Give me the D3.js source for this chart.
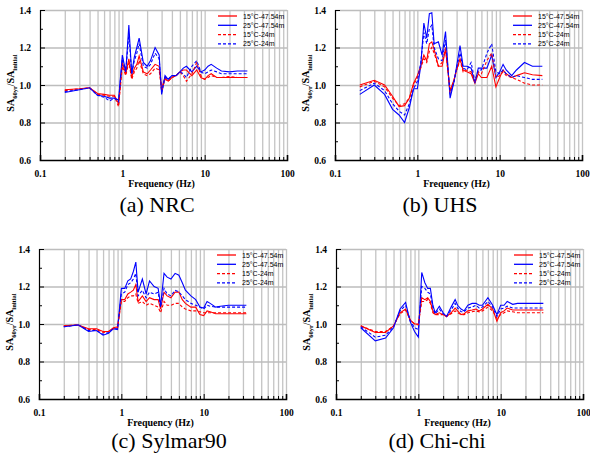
<!DOCTYPE html>
<html>
<head>
<meta charset="utf-8">
<script src="https://cdn.jsdelivr.net/npm/d3@7"></script>
<style>
  body { margin: 0; background: #fff; }
</style>
</head>
<body>
<div class="fig-wrapper"></div>
<script>
// frequencies (Hz) shared by every record
const freqs = [0.2, 0.3, 0.4, 0.5, 0.6, 0.7, 0.8, 0.9,
  1.0, 1.1, 1.2, 1.3, 1.4, 1.5, 1.6,
  1.8, 2.0, 2.2, 2.5, 2.8, 3.0, 3.3, 3.6,
  4.0, 4.5, 5.0, 5.5, 6.0, 7.0, 8.0, 9.0,
  10, 11, 12, 14, 16, 20, 25, 33];

const seriesNames = ["15°C-47.54m", "25°C-47.54m", "15°C-24m", "25°C-24m"];
const captions = ["(a) NRC", "(b) UHS", "(c) Sylmar90", "(d) Chi-chi"];
const xTicks = [0.1, 1, 10, 100];
const xTickLabels = ["0.1", "1", "10", "100"];
const yTicks = [0.6, 0.8, 1.0, 1.2, 1.4];
const yTickLabels = ["0.6", "0.8", "1.0", "1.2", "1.4"];

// (a) NRC
const nrc_15_47 = [0.975, 0.98, 0.985, 0.955, 0.95, 0.945, 0.945, 0.90,
  1.12, 1.06, 1.14, 1.04, 1.09, 1.11, 1.155,
  1.07, 1.06, 1.08, 1.11, 1.10, 0.98, 1.04, 1.02,
  1.04, 1.05, 1.07, 1.08, 1.08, 1.05, 1.08, 1.04,
  1.03, 1.05, 1.06, 1.04, 1.04, 1.04, 1.04, 1.04];
const nrc_25_47 = [0.96, 0.975, 0.985, 0.945, 0.94, 0.93, 0.93, 0.92,
  1.16, 1.07, 1.32, 1.06, 1.15, 1.20, 1.25,
  1.12, 1.10, 1.13, 1.20, 1.16, 0.95, 1.05, 1.03,
  1.05, 1.05, 1.07, 1.09, 1.10, 1.07, 1.10, 1.07,
  1.08, 1.10, 1.11, 1.09, 1.075, 1.07, 1.075, 1.075];
const nrc_15_24 = [0.97, 0.98, 0.985, 0.95, 0.945, 0.94, 0.94, 0.885,
  1.10, 1.05, 1.12, 1.03, 1.07, 1.09, 1.13,
  1.06, 1.05, 1.06, 1.09, 1.08, 0.97, 1.03, 1.02,
  1.04, 1.05, 1.07, 1.05, 1.02, 1.06, 1.12, 1.05,
  1.03, 1.04, 1.05, 1.04, 1.04, 1.045, 1.04, 1.04];
const nrc_25_24 = [0.965, 0.975, 0.985, 0.945, 0.935, 0.915, 0.93, 0.91,
  1.14, 1.07, 1.27, 1.06, 1.13, 1.17, 1.22,
  1.10, 1.09, 1.11, 1.17, 1.14, 0.96, 1.04, 1.03,
  1.05, 1.05, 1.07, 1.06, 1.04, 1.10, 1.13, 1.07,
  1.06, 1.07, 1.08, 1.07, 1.06, 1.06, 1.06, 1.06];

// (b) UHS
const uhs_15_47 = [1.0, 1.025, 1.0, 0.94, 0.885, 0.89, 0.93, 1.01,
  1.05, 1.10, 1.16, 1.13, 1.22, 1.23, 1.19,
  1.10, 1.10, 1.19, 0.97, 1.03, 1.08, 1.14, 1.08,
  1.07, 1.06, 1.01, 1.06, 1.04, 1.04, 1.10, 0.99,
  1.04, 1.08, 1.06, 1.04, 1.05, 1.065, 1.055, 1.05];
const uhs_25_47 = [0.95, 1.0, 0.95, 0.87, 0.84, 0.80, 0.88, 0.98,
  0.98, 1.10, 1.33, 1.25, 1.38, 1.385, 1.22,
  1.23, 1.16, 1.285, 0.93, 1.02, 1.10, 1.21, 1.10,
  1.10, 1.09, 1.01, 1.09, 1.09, 1.09, 1.16, 1.04,
  1.07, 1.11, 1.08, 1.05, 1.08, 1.12, 1.10, 1.10];
const uhs_15_24 = [0.99, 1.02, 0.99, 0.93, 0.89, 0.90, 0.93, 1.0,
  1.04, 1.09, 1.14, 1.12, 1.18, 1.20, 1.17,
  1.10, 1.12, 1.20, 0.96, 1.03, 1.08, 1.13, 1.07,
  1.08, 1.07, 1.02, 1.07, 1.06, 1.13, 1.17, 1.04,
  1.05, 1.07, 1.05, 1.04, 1.03, 1.01, 1.00, 1.00];
const uhs_25_24 = [0.97, 1.01, 0.97, 0.90, 0.86, 0.84, 0.90, 0.98,
  1.02, 1.12, 1.28, 1.22, 1.30, 1.32, 1.20,
  1.14, 1.13, 1.24, 0.95, 1.02, 1.09, 1.17, 1.09,
  1.08, 1.12, 1.02, 1.08, 1.08, 1.17, 1.22, 1.07,
  1.06, 1.08, 1.06, 1.04, 1.05, 1.04, 1.03, 1.03];

// (c) Sylmar90
const syl_15_47 = [0.99, 0.995, 0.975, 0.975, 0.96, 0.96, 0.98, 0.985,
  1.13, 1.13, 1.16, 1.17, 1.18, 1.21, 1.12,
  1.15, 1.12, 1.14, 1.13, 1.13, 1.08, 1.17, 1.15,
  1.14, 1.17, 1.17, 1.13, 1.11, 1.09, 1.09, 1.05,
  1.045, 1.07, 1.065, 1.055, 1.055, 1.055, 1.055, 1.055];
const syl_25_47 = [0.985, 0.995, 0.96, 0.965, 0.94, 0.95, 0.975, 0.97,
  1.19, 1.19, 1.23, 1.24, 1.28, 1.33, 1.17,
  1.24, 1.16, 1.23, 1.20, 1.19, 1.10, 1.27, 1.25,
  1.24, 1.27, 1.26, 1.22, 1.18, 1.15, 1.13, 1.09,
  1.085, 1.12, 1.11, 1.09, 1.095, 1.10, 1.10, 1.10];
const syl_15_24 = [0.99, 0.995, 0.97, 0.97, 0.955, 0.96, 0.975, 0.98,
  1.12, 1.12, 1.14, 1.15, 1.15, 1.16, 1.11,
  1.12, 1.10, 1.11, 1.10, 1.09, 1.06, 1.12, 1.10,
  1.10, 1.11, 1.11, 1.09, 1.08, 1.07, 1.07, 1.065,
  1.06, 1.06, 1.06, 1.06, 1.06, 1.06, 1.06, 1.06];
const syl_25_24 = [0.985, 0.995, 0.965, 0.965, 0.945, 0.955, 0.975, 0.975,
  1.16, 1.17, 1.21, 1.22, 1.24, 1.27, 1.15,
  1.18, 1.14, 1.17, 1.16, 1.17, 1.09, 1.19, 1.16,
  1.15, 1.18, 1.17, 1.15, 1.13, 1.11, 1.10, 1.09,
  1.08, 1.10, 1.095, 1.09, 1.09, 1.09, 1.09, 1.09];

// (d) Chi-chi
const chi_15_47 = [0.99, 0.955, 0.955, 0.99, 1.06, 1.08, 1.02, 1.0,
  1.0, 1.14, 1.13, 1.14, 1.12, 1.07, 1.05,
  1.06, 1.05, 1.04, 1.06, 1.085, 1.07, 1.05, 1.055,
  1.07, 1.075, 1.08, 1.07, 1.08, 1.105, 1.08, 1.015,
  1.06, 1.07, 1.085, 1.075, 1.075, 1.075, 1.075, 1.075];
const chi_25_47 = [0.98, 0.91, 0.925, 0.98, 1.08, 1.115, 1.01, 0.96,
  0.93, 1.275, 1.22, 1.19, 1.19, 1.10, 1.06,
  1.095, 1.06, 1.04, 1.09, 1.13, 1.10, 1.08, 1.07,
  1.10, 1.11, 1.11, 1.10, 1.10, 1.14, 1.10, 1.05,
  1.10, 1.10, 1.12, 1.105, 1.11, 1.11, 1.11, 1.11];
const chi_15_24 = [0.99, 0.96, 0.96, 0.99, 1.055, 1.075, 1.02, 1.0,
  0.995, 1.12, 1.12, 1.13, 1.11, 1.06, 1.05,
  1.05, 1.05, 1.04, 1.055, 1.07, 1.06, 1.05, 1.05,
  1.06, 1.065, 1.07, 1.065, 1.07, 1.09, 1.07, 1.03,
  1.05, 1.06, 1.07, 1.065, 1.06, 1.06, 1.06, 1.06];
const chi_25_24 = [0.985, 0.93, 0.94, 0.985, 1.07, 1.10, 1.015, 0.98,
  0.97, 1.20, 1.19, 1.17, 1.16, 1.09, 1.055,
  1.08, 1.055, 1.04, 1.075, 1.11, 1.085, 1.065, 1.065,
  1.085, 1.09, 1.10, 1.085, 1.09, 1.12, 1.09, 1.04,
  1.08, 1.085, 1.095, 1.085, 1.085, 1.085, 1.085, 1.085];

const panelData = [
  [nrc_15_47, nrc_25_47, nrc_15_24, nrc_25_24],
  [uhs_15_47, uhs_25_47, uhs_15_24, uhs_25_24],
  [syl_15_47, syl_25_47, syl_15_24, syl_25_24],
  [chi_15_47, chi_25_47, chi_15_24, chi_25_24]
];

// layout of the 2x2 figure
const plotW = 247;
const plotH = 150;
const layout = [
  { x: 40, y: 10, capX: 157, capY: 212 },
  { x: 335, y: 10, capX: 440, capY: 212 },
  { x: 39, y: 249, capX: 169, capY: 448 },
  { x: 336, y: 249, capX: 437, capY: 448 }
];
const lineColors = ["#ff0000", "#0000ff", "#ff0000", "#0000ff"];
const lineDash = [null, null, "3,2", "3,2"];
const serif = "Liberation Serif";
const sans = "Liberation Sans";

let minorX = [];
[0.1, 1, 10].forEach(d => {
  for (let k = 2; k <= 9; ++k) minorX.push(d * k);
});
let minorY = [0.7, 0.9, 1.1, 1.3];

let svg = d3
  .select(".fig-wrapper")
  .append("svg")
  .attr("width", 590)
  .attr("height", 455);

let drawPanel = (i) => {
  let p = layout[i];
  let g = svg.append("g").attr("transform", `translate(${p.x},${p.y})`);

  let x = d3.scaleLog().domain([0.1, 100]).range([0, plotW]);
  let y = d3.scaleLinear().domain([0.6, 1.4]).range([plotH, 0]);

  // grid
  g.append("g")
    .attr("transform", `translate(0,${plotH})`)
    .call(d3.axisBottom(x).tickValues(minorX.concat([1, 10, 100])).tickSize(-plotH).tickFormat(""))
    .call(a => a.select(".domain").remove())
    .selectAll("line")
    .attr("stroke", "#c4c4c4")
    .attr("stroke-width", 1.3);
  g.append("g")
    .call(d3.axisLeft(y).tickValues([0.8, 1.0, 1.2, 1.4]).tickSize(-plotW).tickFormat(""))
    .call(a => a.select(".domain").remove())
    .selectAll("line")
    .attr("stroke", "#bdbdbd")
    .attr("stroke-width", 1.5);

  // curves
  let line = d3.line()
    .x((d, k) => x(freqs[k]))
    .y(d => y(d));
  panelData[i].forEach((vals, s) => {
    g.append("path")
      .datum(vals)
      .attr("d", line)
      .attr("fill", "none")
      .attr("stroke", lineColors[s])
      .attr("stroke-width", 1.1)
      .attr("stroke-dasharray", lineDash[s]);
  });

  // axes
  let xAxis = g.append("g")
    .attr("class", "axis")
    .attr("transform", `translate(0,${plotH})`)
    .call(d3.axisBottom(x).tickValues(xTicks).tickSize(-5).tickPadding(10)
      .tickFormat((d, k) => xTickLabels[k]));
  xAxis.select(".domain").attr("stroke", "#000").attr("stroke-width", 1.6);
  g.append("g")
    .attr("class", "axis")
    .attr("transform", `translate(0,${plotH})`)
    .call(d3.axisBottom(x).tickValues(minorX).tickSize(-3).tickFormat(""))
    .select(".domain").remove();

  let yAxis = g.append("g")
    .attr("class", "axis")
    .call(d3.axisLeft(y).tickValues(yTicks).tickSize(-5).tickPadding(9)
      .tickFormat((d, k) => yTickLabels[k]));
  yAxis.select(".domain").attr("stroke", "#000").attr("stroke-width", 1.2);
  g.append("g")
    .attr("class", "axis")
    .call(d3.axisLeft(y).tickValues(minorY).tickSize(-3).tickFormat(""))
    .select(".domain").remove();

  g.selectAll(".axis").attr("font-family", serif);
  g.selectAll(".axis .tick line").attr("stroke", "#000");
  g.selectAll(".tick text")
    .attr("font-family", serif)
    .attr("font-weight", "bold")
    .attr("font-size", 9.5)
    .attr("fill", "#000");

  // axis titles
  g.append("text")
    .attr("x", plotW / 2 - 2)
    .attr("y", plotH + 27)
    .attr("text-anchor", "middle")
    .attr("font-family", serif)
    .attr("font-weight", "bold")
    .attr("font-size", 10)
    .text("Frequency (Hz)");

  let yt = g.append("text")
    .attr("transform", `translate(-26,${plotH / 2 - 2}) rotate(-90)`)
    .attr("text-anchor", "middle")
    .attr("font-family", serif)
    .attr("font-weight", "bold")
    .attr("font-size", 10);
  yt.append("tspan").text("SA");
  yt.append("tspan").attr("dy", 2.5).attr("font-size", 6.5).text("60yr");
  yt.append("tspan").attr("dy", -2.5).text("/SA");
  yt.append("tspan").attr("dy", 2.5).attr("font-size", 6.5).text("initial");

  // legend
  let lg = g.append("g").attr("transform", `translate(${plotW - 69},6)`);
  seriesNames.forEach((name, s) => {
    let row = lg.append("g").attr("transform", `translate(0,${s * 9.3})`);
    row.append("line")
      .attr("x1", 0).attr("x2", 19)
      .attr("stroke", lineColors[s])
      .attr("stroke-width", 1.3)
      .attr("stroke-dasharray", lineDash[s]);
    row.append("text")
      .attr("x", 25)
      .attr("y", 2.5)
      .attr("font-family", sans)
      .attr("font-size", 7)
      .text(name);
  });

  // caption
  svg.append("text")
    .attr("x", p.capX)
    .attr("y", p.capY)
    .attr("text-anchor", "middle")
    .attr("font-family", serif)
    .attr("font-size", 22)
    .text(captions[i]);
};

[0, 1, 2, 3].forEach(drawPanel);
</script>
</body>
</html>
